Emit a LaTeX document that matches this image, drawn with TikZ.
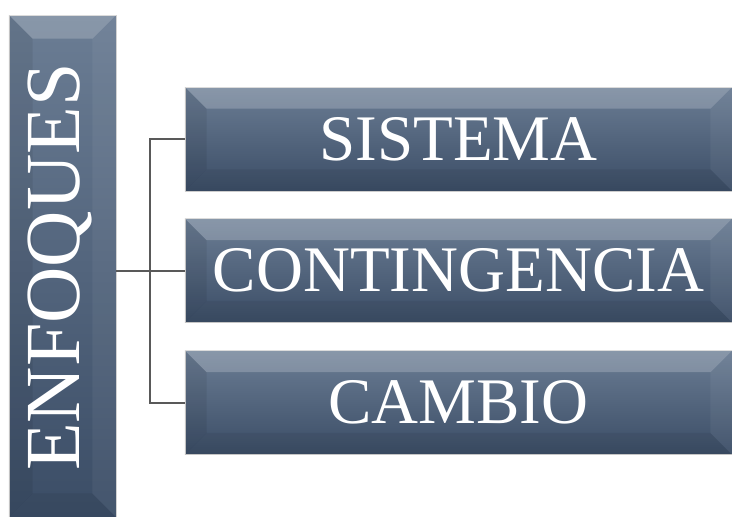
\documentclass[tikz,border=0pt]{standalone}
\usepackage{fontspec}
\setmainfont{Liberation Serif}
\usetikzlibrary{positioning}
\definecolor{slatetop}{HTML}{6B7D94}
\definecolor{slatebot}{HTML}{3B4D66}

\begin{document}
\begin{tikzpicture}[x=1pt,y=-1pt,semithick]
\tikzstyle{slab}=[draw=gray!35, top color=slatetop, bottom color=slatebot, inner sep=0pt]
\tikzstyle{item}=[slab, minimum width=547pt, minimum height=104pt]
\tikzstyle{label}=[text=white, font=\fontsize{65}{65}\selectfont]
\tikzstyle{link}=[draw=black!65, line width=2pt]
\useasboundingbox (0,0) rectangle (732,517);
\node[slab, minimum width=107pt, minimum height=502pt] (enf) at (62.5,266) {};
\node[item] (sis) at (458.5,139) {};
\node[item] (con) at (458.5,270.5) {};
\node[item] (cam) at (458.5,402.5) {};
% bevels
\foreach \n/\b in {enf/24,sis/22,con/22,cam/22}{
  \fill[white,opacity=.2] (\n.north west) -- (\n.north east) -- ++(-\b,\b) -- ([shift={(\b,\b)}]\n.north west) -- cycle;
  \fill[black,opacity=.07] (\n.north west) -- ([shift={(\b,\b)}]\n.north west) -- ([shift={(\b,-\b)}]\n.south west) -- (\n.south west) -- cycle;
  \fill[white,opacity=.05] (\n.north east) -- ([shift={(-\b,\b)}]\n.north east) -- ([shift={(-\b,-\b)}]\n.south east) -- (\n.south east) -- cycle;
  \fill[black,opacity=.06] (\n.south west) -- ([shift={(\b,-\b)}]\n.south west) -- ([shift={(-\b,-\b)}]\n.south east) -- (\n.south east) -- cycle;
}
\node[label, rotate=90, font=\fontsize{78}{78}\selectfont] (enft) at (60,267) {ENFOQUES};
\node[label] (sist) at (sis) {SISTEMA};
\node[label] (cont) at (con) {CONTINGENCIA};
\node[label] (camt) at (cam) {CAMBIO};
% connectors
\draw[link] (enf.east |- con.west) -- (con.west);
\draw[link] (sis.west) -- ++(-35,0) |- (cam.west);
\end{tikzpicture}
\end{document}
